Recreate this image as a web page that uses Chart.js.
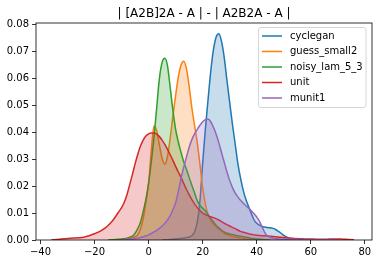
<!DOCTYPE html>
<html>
<head>
<meta charset="utf-8">
<script src="https://cdn.jsdelivr.net/npm/chart.js@4"></script>
<style>
  html, body { margin: 0; padding: 0; background: #fff; }
  #kde { display: block; }
</style>
</head>
<body>
<canvas id="kde" width="381" height="264"></canvas>
<script>
// Shared x grid (coarse in the tails, 1 unit in the middle)
const xs = [
  -36, -34, -32, -30, -28, -26, -24, -22, -20, -18,
  -16, -15, -14, -13, -12, -11, -10, -9, -8, -7, -6, -5, -4, -3, -2, -1,
  0, 1, 2, 3, 4, 5, 6, 7, 8, 9, 10, 11, 12, 13, 14, 15, 16, 17, 18, 19,
  20, 21, 22, 23, 24, 25, 26, 27, 28, 29, 30, 31, 32, 33, 34, 35, 36, 37, 38, 39,
  40, 41, 42, 43, 44, 45, 46, 47, 48, 49, 50,
  52, 54, 56, 58, 60, 62, 64, 66, 68, 70, 72, 74, 76
];

const labels = ['cyclegan', 'guess_small2', 'noisy_lam_5_3', 'unit', 'munit1'];

// density values, each series starts at its own x on the grid
const cycleganFrom = 5;
const cyclegan = [
  0, 0.0001, 0.0001, 0.0002, 0.0003, 0.0004, 0.0005, 0.0006, 0.0007, 0.0009,
  0.0011, 0.0016, 0.003, 0.0065, 0.0145, 0.0285, 0.041, 0.052, 0.0625, 0.0705,
  0.0752, 0.0764, 0.0735, 0.0675, 0.059, 0.051, 0.043, 0.0358, 0.0285, 0.023,
  0.0185, 0.015, 0.0124, 0.0098, 0.0075, 0.0062, 0.0055, 0.005, 0.0048, 0.0046,
  0.0045, 0.0043, 0.0039, 0.0032, 0.0025, 0.0017,
  0.0007, 0.0002, 0
];

const guessFrom = -12;
const guess = [
  0, 0.0001, 0.0001, 0.0002, 0.0003, 0.0005, 0.0008, 0.0012, 0.0019, 0.004, 0.0078, 0.014,
  0.021, 0.033, 0.0422, 0.0405, 0.0352, 0.0303, 0.0281, 0.031, 0.0378, 0.046,
  0.0535, 0.0603, 0.0648, 0.0662, 0.0635, 0.057, 0.049, 0.0425, 0.0362, 0.028,
  0.0195, 0.0135, 0.0095, 0.0072, 0.0058, 0.0048, 0.004, 0.0032, 0.0025, 0.002,
  0.0016, 0.0013, 0.0011, 0.0009, 0.0007, 0.0005, 0.0004, 0.0003, 0.0002, 0.0001,
  0.0001, 0
];

const noisyFrom = -15;
const noisy = [
  0, 0.0001, 0.0001, 0.0002, 0.0003, 0.0004, 0.0005, 0.0007, 0.001, 0.0014, 0.0025,
  0.0042, 0.0066, 0.0105, 0.015,
  0.021, 0.029, 0.038, 0.049, 0.0598, 0.0658, 0.0673, 0.0645, 0.0565, 0.048,
  0.041, 0.0363, 0.0325, 0.029, 0.0262, 0.0232, 0.0203, 0.0175, 0.0146, 0.0128,
  0.0118, 0.0108, 0.0094, 0.008, 0.0067, 0.0055, 0.0045, 0.0037, 0.003, 0.0025,
  0.0022, 0.002, 0.0018, 0.0016, 0.0014, 0.0012, 0.001, 0.0008, 0.0006, 0.0005,
  0.0004, 0.0003, 0.0002, 0.0001, 0.0001, 0
];

const unitFrom = -36;
const unit = [
  0, 0.0002, 0.0004, 0.0006, 0.0007, 0.0008, 0.001, 0.0016, 0.0023, 0.0032,
  0.0045, 0.0054, 0.0064, 0.0076, 0.009, 0.0105, 0.012, 0.014, 0.0168, 0.0205,
  0.0242, 0.0282, 0.0318, 0.0348, 0.037, 0.0385,
  0.0393, 0.0396, 0.0396, 0.0392, 0.0383, 0.037, 0.0354, 0.0336, 0.0316, 0.0295,
  0.0273, 0.0252, 0.0232, 0.021, 0.0188, 0.0168, 0.015, 0.0134, 0.012, 0.0109,
  0.01, 0.0094, 0.009, 0.0086, 0.0083, 0.0079, 0.0074, 0.0068, 0.0062, 0.0057,
  0.0052, 0.0047, 0.0042, 0.0037, 0.0032, 0.0029, 0.0026, 0.0023, 0.0021, 0.0019,
  0.0018, 0.0017, 0.0016, 0.0016, 0.0015, 0.0014, 0.0013, 0.0012, 0.0011, 0.001, 0.0009,
  0.0007, 0.0006, 0.0005, 0.0004, 0.0004, 0.0003, 0.0003, 0.0003, 0.0004, 0.0004,
  0.0003, 0.0002, 0.0001
];

const munitFrom = -10;
const munit = [
  0, 0.0001, 0.0002, 0.0003, 0.0004, 0.0005, 0.0007, 0.0009, 0.0012, 0.0015,
  0.0019, 0.0024, 0.003, 0.0036, 0.0043, 0.0052, 0.0062, 0.0074, 0.009, 0.0112,
  0.0138, 0.018, 0.0228, 0.027, 0.0307, 0.0343, 0.0372, 0.0393, 0.041, 0.0425,
  0.0438, 0.0446, 0.0448, 0.0438, 0.0418, 0.0392, 0.036, 0.0323, 0.0288, 0.0252,
  0.022, 0.0195, 0.0175, 0.016, 0.0147, 0.0137, 0.0127, 0.0118, 0.0108, 0.0097,
  0.0085, 0.007, 0.0048, 0.0027, 0.0015, 0.001, 0.0007, 0.0005, 0.0004, 0.0003, 0.0003,
  0.0003, 0.0003, 0.0002, 0.0002, 0.0001, 0.0001, 0.0001, 0.0001, 0.0001, 0
];

const xTicks = [-40, -20, 0, 20, 40, 60, 80];
const yTicks = [0, 0.01, 0.02, 0.03, 0.04, 0.05, 0.06, 0.07, 0.08];

const colors = ['31,119,180', '255,127,14', '44,160,44', '214,39,40', '148,103,189'];
const series = [
  [cycleganFrom, cyclegan],
  [guessFrom, guess],
  [noisyFrom, noisy],
  [unitFrom, unit],
  [munitFrom, munit],
];

function toPoints(from, values) {
  const start = xs.indexOf(from);
  return values.map((v, i) => ({ x: xs[start + i], y: v }));
}

const datasets = series.map(([from, values], i) => ({
  label: labels[i],
  data: toPoints(from, values),
  borderColor: `rgb(${colors[i]})`,
  backgroundColor: `rgba(${colors[i]},0.25)`,
  borderWidth: 1.5,
  pointRadius: 0,
  fill: 'origin',
  cubicInterpolationMode: 'monotone',
  order: labels.length - i,
}));

const fontFamily = "'DejaVu Sans', sans-serif";

// title, frame and legend drawn like matplotlib
const decor = {
  id: 'decor',
  afterDraw(chart) {
    const { ctx, chartArea: a } = chart;
    ctx.save();
    ctx.strokeStyle = '#000';
    ctx.lineWidth = 0.8;
    ctx.strokeRect(a.left, a.top, a.right - a.left, a.bottom - a.top);

    ctx.fillStyle = '#000';
    ctx.font = `12px ${fontFamily}`;
    ctx.textAlign = 'center';
    ctx.textBaseline = 'middle';
    ctx.fillText('| [A2B]2A - A | - | A2B2A - A |', (a.left + a.right) / 2, 14);

    // legend box
    const bx = 258.5, by = 27.5, bw = 107.5, bh = 80;
    ctx.beginPath();
    ctx.roundRect(bx, by, bw, bh, 2.5);
    ctx.fillStyle = 'rgba(255,255,255,0.8)';
    ctx.fill();
    ctx.strokeStyle = '#cccccc';
    ctx.lineWidth = 0.8;
    ctx.stroke();

    ctx.font = `10px ${fontFamily}`;
    ctx.textAlign = 'left';
    labels.forEach((name, i) => {
      const y = 36 + i * 15.5;
      ctx.strokeStyle = `rgb(${colors[i]})`;
      ctx.lineWidth = 1.5;
      ctx.beginPath();
      ctx.moveTo(262, y);
      ctx.lineTo(282, y);
      ctx.stroke();
      ctx.fillStyle = '#000';
      ctx.fillText(name, 290, y);
    });
    ctx.restore();
  }
};

new Chart(document.getElementById('kde'), {
  type: 'line',
  data: { datasets },
  options: {
    responsive: false,
    devicePixelRatio: 1,
    animation: false,
    layout: { padding: { left: 0, right: 9, top: 23, bottom: 0 } },
    plugins: {
      legend: { display: false },
      title: { display: false },
      tooltip: { enabled: false },
    },
    scales: {
      x: {
        type: 'linear',
        min: -41.65,
        max: 82.65,
        afterBuildTicks: s => { s.ticks = xTicks.map(v => ({ value: v })); },
        afterFit: s => { s.height = 24; },
        border: { display: false },
        grid: { drawOnChartArea: false, tickLength: 4, tickColor: '#000', lineWidth: 0.8 },
        ticks: {
          padding: 2,
          color: '#000',
          font: { family: fontFamily, size: 10 },
          maxRotation: 0,
          callback: v => String(v).replace('-', '\u2212'),
        },
      },
      y: {
        min: 0,
        max: 0.0804,
        afterBuildTicks: s => { s.ticks = yTicks.map(v => ({ value: v })); },
        afterFit: s => { s.width = 36; },
        border: { display: false },
        grid: { drawOnChartArea: false, tickLength: 4, tickColor: '#000', lineWidth: 0.8 },
        ticks: {
          padding: 3,
          color: '#000',
          font: { family: fontFamily, size: 10 },
          callback: v => v.toFixed(2),
        },
      },
    },
  },
  plugins: [decor],
});
</script>
</body>
</html>
